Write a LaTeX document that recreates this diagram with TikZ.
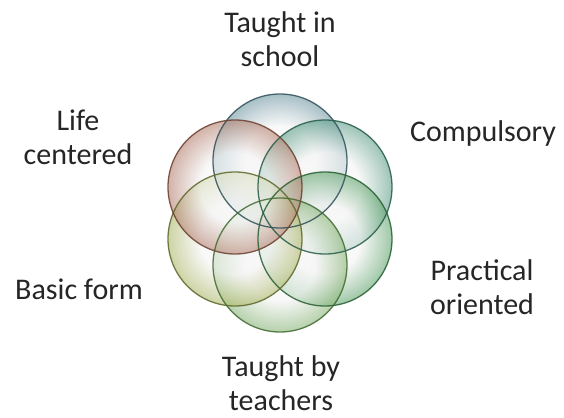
\documentclass[tikz,border=0pt]{standalone}
\usepackage{fontspec}
\setmainfont{Carlito}
\definecolor{rimblue}{HTML}{6F97A3}\definecolor{lineblue}{HTML}{2F5058}
\definecolor{rimteal}{HTML}{5E9E88}\definecolor{lineteal}{HTML}{255A48}
\definecolor{rimgreen}{HTML}{5FA46C}\definecolor{linegreen}{HTML}{255E30}
\definecolor{rimleaf}{HTML}{86B374}\definecolor{lineleaf}{HTML}{3F6A30}
\definecolor{rimolive}{HTML}{AEB86A}\definecolor{lineolive}{HTML}{5C6628}
\definecolor{rimbrown}{HTML}{B58170}\definecolor{linebrown}{HTML}{6A3E2E}
% one radial shading per rim colour (circle rim sits at 25bp)
\newcommand\bubshade[1]{\pgfdeclareradialshading{bub#1}{\pgfpoint{0bp}{0bp}}{color(0bp)=(gray!4); color(13bp)=(gray!8); color(25bp)=(#1); color(50bp)=(#1)}}
\bubshade{rimblue}\bubshade{rimteal}\bubshade{rimgreen}
\bubshade{rimleaf}\bubshade{rimolive}\bubshade{rimbrown}
\begin{document}
\begin{tikzpicture}[x=1pt, y=1pt, font=\fontsize{30}{34}\selectfont,
	bub/.style={circle, minimum size=134pt, inner sep=0pt,
		shade, shading=bub#1, fill opacity=0.6},
	rim/.style={draw=#1, line width=1.3pt, draw opacity=0.85},
	lbl/.style={align=center, text=black!85}]
	\fill[white] (0,0) rectangle (564,417);
	% circles
	\node[bub=rimblue] (ctop) at (280,256) {};
	\node[bub=rimteal] (cur) at (325,230) {};
	\node[bub=rimgreen] (clr) at (325,178) {};
	\node[bub=rimleaf] (cbot) at (280,152) {};
	\node[bub=rimolive] (cll) at (235,178) {};
	\node[bub=rimbrown] (cul) at (235,230) {};
	% outlines on top
	\foreach \n/\c in {ctop/lineblue, cur/lineteal, clr/linegreen, cbot/lineleaf, cll/lineolive, cul/linebrown}
		\draw[rim=\c] (\n.center) circle[radius=67pt];
	% labels
	\node[lbl] (school) at (280,378) {Taught in\\school};
	\node[lbl] (life) at (78,280) {Life\\centered};
	\node[lbl] (compulsory) at (483,283) {Compulsory};
	\node[lbl] (practical) at (482,130) {Practical\\oriented};
	\node[lbl] (basic) at (79,128) {Basic form};
	\node[lbl] (teachers) at (281,34) {Taught by\\teachers};
\end{tikzpicture}
\end{document}
